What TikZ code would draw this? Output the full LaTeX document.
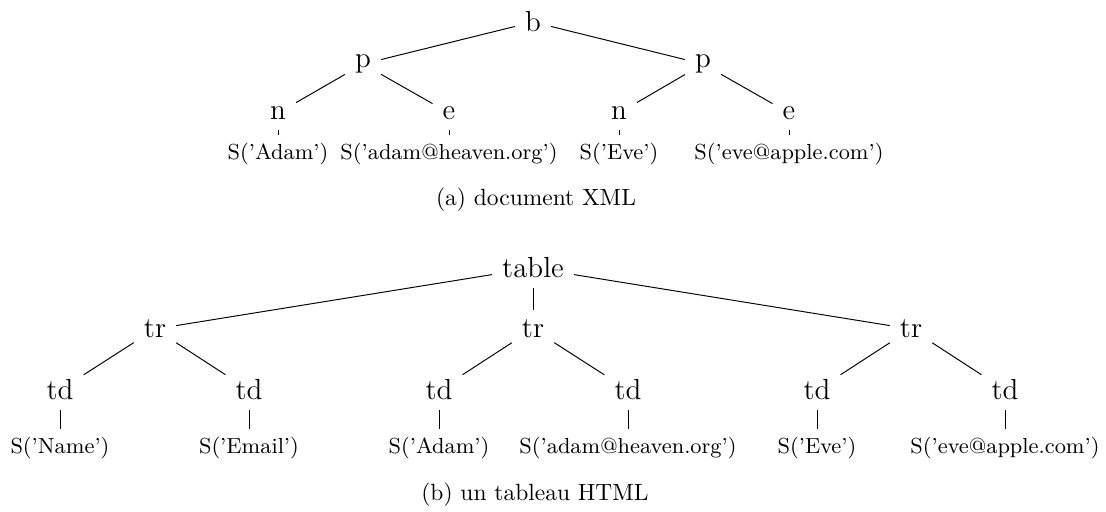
\documentclass[tikz,border=0pt]{standalone}
\begin{document}
\begin{tikzpicture}[
  x={(0.41322pt,0)}, y={(0,-0.41322pt)},
  tag/.style={font=\large, inner sep=4pt},
  leaf/.style={font=\small, inner sep=3pt},
  subcaption/.style={font=\fontsize{9.7pt}{11.6pt}\selectfont},
  edge/.style={line width=0.4pt}
]
\useasboundingbox (0,0) rectangle (1106,511);

% (a) XML document tree
\node[tag] (b)  at (533,22)  {b};
\node[tag] (p1) at (363,64)  {p};
\node[tag] (p2) at (703,64)  {p};
\node[tag] (n1) at (278,113) {n};
\node[tag] (e1) at (449,113) {e};
\node[tag] (n2) at (619,113) {n};
\node[tag] (e2) at (789,113) {e};
\node[leaf] (s1) at (278,154) {S('Adam')};
\node[leaf] (s2) at (449,154) {S('adam@heaven.org')};
\node[leaf] (s3) at (619,154) {S('Eve')};
\node[leaf] (s4) at (789,154) {S('eve@apple.com')};
\node[subcaption] (capa) at (536,200) {(a) document XML};

\draw[edge] (b) -- (p1);
\draw[edge] (b) -- (p2);
\draw[edge] (p1) -- (n1);
\draw[edge] (p1) -- (e1);
\draw[edge] (p2) -- (n2);
\draw[edge] (p2) -- (e2);
\draw[edge] (n1) -- (s1);
\draw[edge] (e1) -- (s2);
\draw[edge] (n2) -- (s3);
\draw[edge] (e2) -- (s4);

% (b) HTML table tree
\node[tag] (tab) at (533,268) {table};
\node[tag] (r1)  at (155,329) {tr};
\node[tag] (r2)  at (533,329) {tr};
\node[tag] (r3)  at (911,329) {tr};
\node[tag] (d1)  at (60,390)  {td};
\node[tag] (d2)  at (249,390) {td};
\node[tag] (d3)  at (439,390) {td};
\node[tag] (d4)  at (628,390) {td};
\node[tag] (d5)  at (817,390) {td};
\node[tag] (d6)  at (1005,390) {td};
\node[leaf] (t1) at (60,448)  {S('Name')};
\node[leaf] (t2) at (249,448) {S('Email')};
\node[leaf] (t3) at (439,448) {S('Adam')};
\node[leaf] (t4) at (628,448) {S('adam@heaven.org')};
\node[leaf] (t5) at (817,448) {S('Eve')};
\node[leaf] (t6) at (1005,448) {S('eve@apple.com')};
\node[subcaption] (capb) at (535,495) {(b) un tableau HTML};

\draw[edge] (tab) -- (r1);
\draw[edge] (tab) -- (r2);
\draw[edge] (tab) -- (r3);
\draw[edge] (r1) -- (d1);
\draw[edge] (r1) -- (d2);
\draw[edge] (r2) -- (d3);
\draw[edge] (r2) -- (d4);
\draw[edge] (r3) -- (d5);
\draw[edge] (r3) -- (d6);
\draw[edge] (d1) -- (t1);
\draw[edge] (d2) -- (t2);
\draw[edge] (d3) -- (t3);
\draw[edge] (d4) -- (t4);
\draw[edge] (d5) -- (t5);
\draw[edge] (d6) -- (t6);
\end{tikzpicture}
\end{document}
